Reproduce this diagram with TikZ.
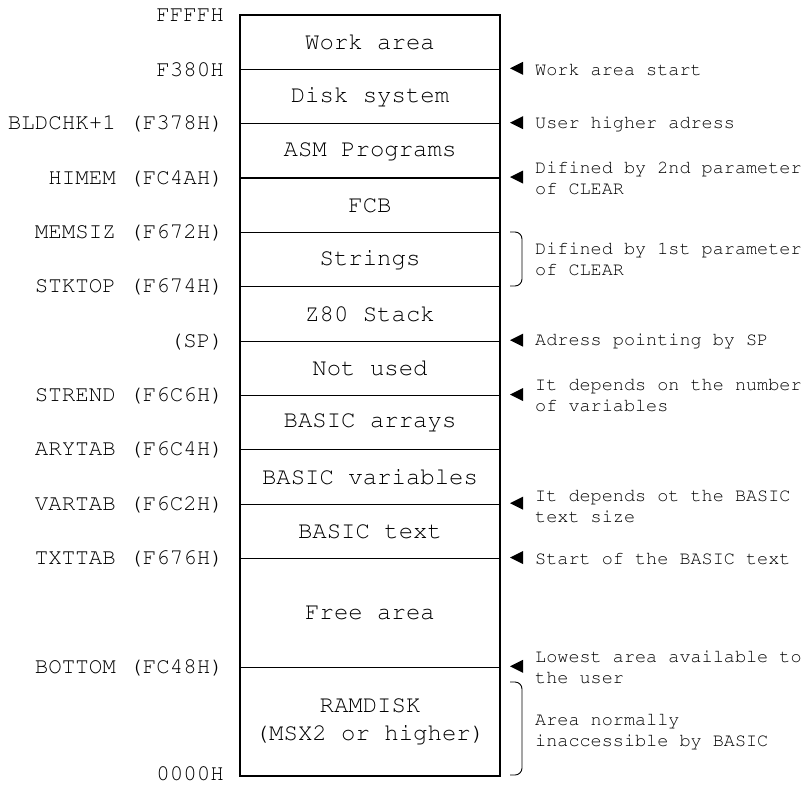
\documentclass[tikz,border=0pt]{standalone}
\usepackage[T1]{fontenc}
\usepackage{courier}
\renewcommand{\familydefault}{\ttdefault}
\begin{document}
\begin{tikzpicture}[x=1pt,y=-1pt,
  cell/.style={draw,line width=1.2pt,minimum width=260pt,minimum height=54.357pt,inner sep=0pt,font=\fontsize{24}{28}\selectfont,align=center},
  bigcell/.style={cell,minimum height=108.714pt},
  addr/.style={anchor=east,inner sep=0pt,font=\fontsize{22.5}{27}\selectfont},
  note/.style={anchor=west,inner sep=0pt,align=left,font=\fontsize{18.5}{21}\selectfont},
  marker/.style={fill=black},
  brk/.style={line width=0.9pt}]
\useasboundingbox (0,0) rectangle (808,785);
\def\U{54.357}
% cells
\node[cell] (c0) at (370,{15+0.5*\U}) {Work area};
\node[cell] (c1) at (370,{15+1.5*\U}) {Disk system};
\node[cell] (c2) at (370,{15+2.5*\U}) {ASM Programs};
\node[cell] (c3) at (370,{15+3.5*\U}) {FCB};
\node[cell] (c4) at (370,{15+4.5*\U}) {Strings};
\node[cell] (c5) at (370,{15+5.5*\U}) {Z80 Stack};
\node[cell] (c6) at (370,{15+6.5*\U}) {Not used};
\node[cell] (c7) at (370,{15+7.5*\U}) {BASIC arrays};
\node[cell] (c8) at (370,{15+8.5*\U}) {BASIC variables};
\node[cell] (c9) at (370,{15+9.5*\U}) {BASIC text};
\node[bigcell] (c10) at (370,{15+11*\U}) {Free area};
\node[bigcell] (c11) at (370,{15+13*\U}) {RAMDISK\\(MSX2 or higher)};
% address labels
\node[addr] (a0) at (224,15) {FFFFH};
\node[addr] (a1) at (224,{15+1*\U}) {F380H};
\node[addr] (a2) at (224,{15+2*\U}) {BLDCHK+1 (F378H)};
\node[addr] (a3) at (224,{15+3*\U}) {HIMEM (FC4AH)};
\node[addr] (a4) at (224,{15+4*\U}) {MEMSIZ (F672H)};
\node[addr] (a5) at (224,{15+5*\U}) {STKTOP (F674H)};
\node[addr] (a6) at (224,{15+6*\U}) {(SP)};
\node[addr] (a7) at (224,{15+7*\U}) {STREND (F6C6H)};
\node[addr] (a8) at (224,{15+8*\U}) {ARYTAB (F6C4H)};
\node[addr] (a9) at (224,{15+9*\U}) {VARTAB (F6C2H)};
\node[addr] (a10) at (224,{15+10*\U}) {TXTTAB (F676H)};
\node[addr] (a11) at (224,{15+12*\U}) {BOTTOM (FC48H)};
\node[addr] (a12) at (224,773) {0000H};
% markers
\foreach \k in {1,2,3,6,7,9,10,12}{
  \fill[marker] (510,{15+\k*\U-1}) -- (523,{15+\k*\U-7.5}) -- (523,{15+\k*\U+5.5}) -- cycle;
}
% notes
\node[note] (n1) at (535,{15+1*\U}) {Work area start};
\node[note] (n2) at (535,{15+2*\U}) {User higher adress};
\node[note] (n3) at (535,{15+3*\U}) {Difined by 2nd parameter\\of CLEAR};
\node[note] (n4) at (535,{15+4.5*\U}) {Difined by 1st parameter\\of CLEAR};
\node[note] (n6) at (535,{15+6*\U}) {Adress pointing by SP};
\node[note] (n7) at (535,{15+7*\U}) {It depends on the number\\of variables};
\node[note] (n9) at (535,{15+9*\U+2}) {It depends ot the BASIC\\text size};
\node[note] (n10) at (535,{15+10*\U}) {Start of the BASIC text};
\node[note] (n12) at (535,{15+12*\U}) {Lowest area available to\\the user};
\node[note] (n13) at (535,731) {Area normally\\inaccessible by BASIC};
% brackets
\draw[brk] (510,232) -- (515,232) to[out=0,in=90] (522,239) -- (522,279) to[out=270,in=0] (515,286) -- (510,286);
\draw[brk] (510,682) -- (515,682) to[out=0,in=90] (522,689) -- (522,768) to[out=270,in=0] (515,775) -- (510,775);
\end{tikzpicture}
\end{document}
